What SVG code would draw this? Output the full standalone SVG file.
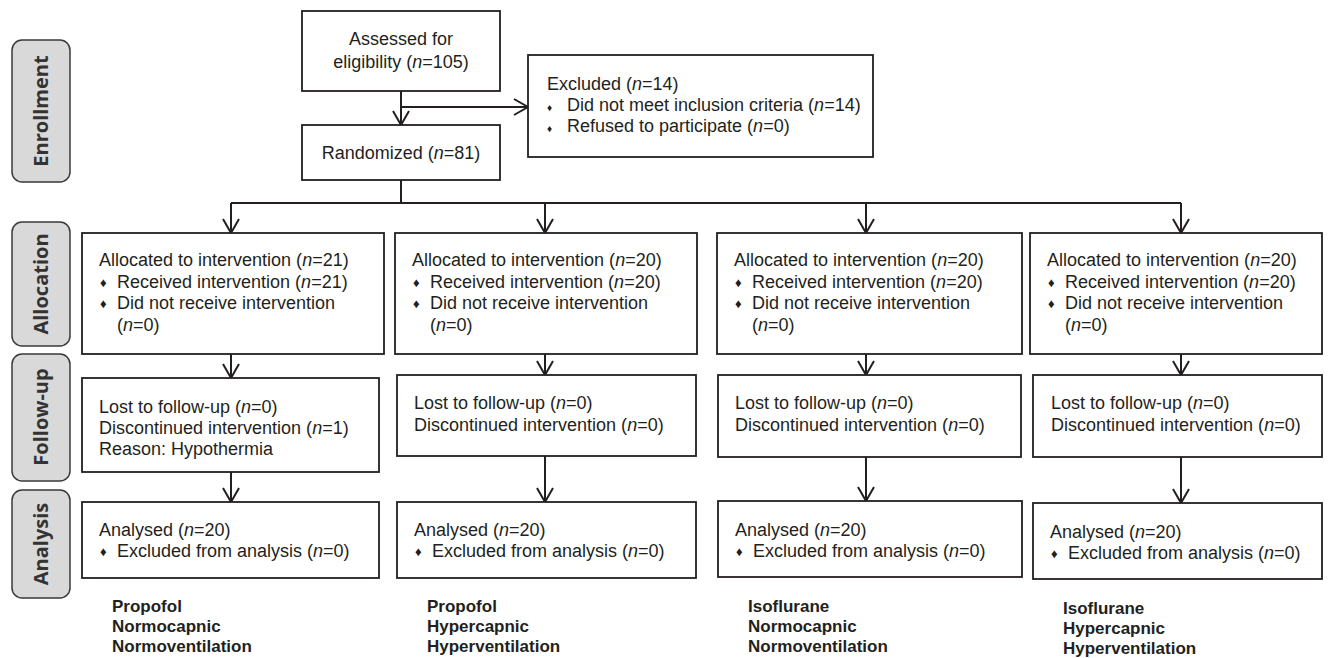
<svg xmlns="http://www.w3.org/2000/svg" width="1328" height="658" viewBox="0 0 1328 658">
<style>
.box{fill:#fff;stroke:#231f20;stroke-width:1.8}
.lbl{fill:#d9d9d9;stroke:#3a3a3a;stroke-width:1.5}
.t{font-family:"Liberation Sans",Arial,sans-serif;font-size:18px;fill:#231f20}
.m{text-anchor:middle}
.b{font-family:"Liberation Sans",Arial,sans-serif;font-size:17px;font-weight:bold;fill:#231f20}
.side{font-family:"Open Sans","DejaVu Sans",sans-serif;font-weight:bold;font-size:20px;fill:#333;text-anchor:middle}
.c{stroke:#231f20;stroke-width:2;fill:none}
.i{font-style:italic}
.d{font-size:13px}
.ds{font-size:10px}
</style>
<defs>
<marker id="ah" viewBox="-16 -10 18 20" refX="0" refY="0" markerWidth="18" markerHeight="20" markerUnits="userSpaceOnUse" orient="auto">
<path d="M-14,-8 L0,0 L-14,8" fill="none" stroke="#231f20" stroke-width="2"/>
</marker>
</defs>

<g id="side-labels">
<g id="lbl-enrollment"><rect class="lbl" x="12" y="40" width="58" height="142" rx="10"/><text class="side" transform="translate(48,111) rotate(-90)">Enrollment</text></g>
<g id="lbl-allocation"><rect class="lbl" x="12" y="222" width="58" height="124" rx="10"/><text class="side" transform="translate(48,284) rotate(-90)">Allocation</text></g>
<g id="lbl-followup"><rect class="lbl" x="12" y="354" width="58" height="127" rx="10"/><text class="side" transform="translate(48,417) rotate(-90)">Follow-up</text></g>
<g id="lbl-analysis"><rect class="lbl" x="12" y="490" width="58" height="108" rx="10"/><text class="side" transform="translate(48,544) rotate(-90)">Analysis</text></g>
</g>

<g id="connectors">
<path class="c" d="M401,91 V125" marker-end="url(#ah)"/>
<path class="c" d="M401,107 H528" marker-end="url(#ah)"/>
<path class="c" d="M401,180 V203 M231,203 H1181"/>
<path class="c" d="M231,203 V233" marker-end="url(#ah)"/>
<path class="c" d="M545,203 V233" marker-end="url(#ah)"/>
<path class="c" d="M866,203 V233" marker-end="url(#ah)"/>
<path class="c" d="M1181,203 V233" marker-end="url(#ah)"/>
<path class="c" d="M231,354 V378" marker-end="url(#ah)"/>
<path class="c" d="M545,354 V375" marker-end="url(#ah)"/>
<path class="c" d="M866,354 V375" marker-end="url(#ah)"/>
<path class="c" d="M1181,354 V375" marker-end="url(#ah)"/>
<path class="c" d="M231,472 V502" marker-end="url(#ah)"/>
<path class="c" d="M545,456 V502" marker-end="url(#ah)"/>
<path class="c" d="M866,457 V501" marker-end="url(#ah)"/>
<path class="c" d="M1181,457 V503" marker-end="url(#ah)"/>
</g>

<g id="assessed">
<rect class="box" x="302" y="11" width="198" height="80"/>
<text class="t m" x="401" y="45">Assessed for</text>
<text class="t m" x="401" y="68">eligibility (<tspan class="i">n</tspan>=105)</text>
</g>

<g id="excluded">
<rect class="box" x="528" y="55" width="345" height="102"/>
<text class="t" x="547" y="90">Excluded (<tspan class="i">n</tspan>=14)</text>
<text class="t" x="547" y="111"><tspan class="ds">♦</tspan></text><text class="t" x="567" y="111">Did not meet inclusion criteria (<tspan class="i">n</tspan>=14)</text>
<text class="t" x="547" y="132"><tspan class="ds">♦</tspan></text><text class="t" x="567" y="132">Refused to participate (<tspan class="i">n</tspan>=0)</text>
</g>

<g id="randomized">
<rect class="box" x="302" y="125" width="198" height="55"/>
<text class="t m" x="401" y="159">Randomized (<tspan class="i">n</tspan>=81)</text>
</g>

<g id="alloc-1">
<rect class="box" x="82" y="233" width="302" height="121"/>
<text class="t" x="99" y="266">Allocated to intervention (<tspan class="i">n</tspan>=21)</text>
<text class="t d" x="100" y="287">♦</text><text class="t" x="117" y="288">Received intervention (<tspan class="i">n</tspan>=21)</text>
<text class="t d" x="100" y="308">♦</text><text class="t" x="117" y="309">Did not receive intervention</text>
<text class="t" x="117" y="331">(<tspan class="i">n</tspan>=0)</text>
</g>
<g id="alloc-2">
<rect class="box" x="395" y="233" width="302" height="121"/>
<text class="t" x="412" y="266">Allocated to intervention (<tspan class="i">n</tspan>=20)</text>
<text class="t d" x="413" y="287">♦</text><text class="t" x="430" y="288">Received intervention (<tspan class="i">n</tspan>=20)</text>
<text class="t d" x="413" y="308">♦</text><text class="t" x="430" y="309">Did not receive intervention</text>
<text class="t" x="430" y="331">(<tspan class="i">n</tspan>=0)</text>
</g>
<g id="alloc-3">
<rect class="box" x="717" y="233" width="305" height="121"/>
<text class="t" x="734" y="266">Allocated to intervention (<tspan class="i">n</tspan>=20)</text>
<text class="t d" x="735" y="287">♦</text><text class="t" x="752" y="288">Received intervention (<tspan class="i">n</tspan>=20)</text>
<text class="t d" x="735" y="308">♦</text><text class="t" x="752" y="309">Did not receive intervention</text>
<text class="t" x="752" y="331">(<tspan class="i">n</tspan>=0)</text>
</g>
<g id="alloc-4">
<rect class="box" x="1030" y="233" width="292" height="121"/>
<text class="t" x="1047" y="266">Allocated to intervention (<tspan class="i">n</tspan>=20)</text>
<text class="t d" x="1048" y="287">♦</text><text class="t" x="1065" y="288">Received intervention (<tspan class="i">n</tspan>=20)</text>
<text class="t d" x="1048" y="308">♦</text><text class="t" x="1065" y="309">Did not receive intervention</text>
<text class="t" x="1065" y="331">(<tspan class="i">n</tspan>=0)</text>
</g>

<g id="follow-1">
<rect class="box" x="82" y="378" width="297" height="94"/>
<text class="t" x="99" y="413">Lost to follow-up (<tspan class="i">n</tspan>=0)</text>
<text class="t" x="99" y="434">Discontinued intervention (<tspan class="i">n</tspan>=1)</text>
<text class="t" x="99" y="455">Reason: Hypothermia</text>
</g>
<g id="follow-2">
<rect class="box" x="397" y="375" width="299" height="81"/>
<text class="t" x="414" y="409">Lost to follow-up (<tspan class="i">n</tspan>=0)</text>
<text class="t" x="414" y="431">Discontinued intervention (<tspan class="i">n</tspan>=0)</text>
</g>
<g id="follow-3">
<rect class="box" x="718" y="375" width="303" height="82"/>
<text class="t" x="735" y="409">Lost to follow-up (<tspan class="i">n</tspan>=0)</text>
<text class="t" x="735" y="431">Discontinued intervention (<tspan class="i">n</tspan>=0)</text>
</g>
<g id="follow-4">
<rect class="box" x="1033" y="375" width="289" height="82"/>
<text class="t" x="1051" y="409">Lost to follow-up (<tspan class="i">n</tspan>=0)</text>
<text class="t" x="1051" y="431">Discontinued intervention (<tspan class="i">n</tspan>=0)</text>
</g>

<g id="analysis-1">
<rect class="box" x="82" y="502" width="297" height="76"/>
<text class="t" x="99" y="536">Analysed (<tspan class="i">n</tspan>=20)</text>
<text class="t d" x="100" y="556">♦</text><text class="t" x="117" y="557">Excluded from analysis (<tspan class="i">n</tspan>=0)</text>
</g>
<g id="analysis-2">
<rect class="box" x="397" y="502" width="299" height="76"/>
<text class="t" x="414" y="536">Analysed (<tspan class="i">n</tspan>=20)</text>
<text class="t d" x="415" y="556">♦</text><text class="t" x="432" y="557">Excluded from analysis (<tspan class="i">n</tspan>=0)</text>
</g>
<g id="analysis-3">
<rect class="box" x="718" y="501" width="304" height="76"/>
<text class="t" x="735" y="536">Analysed (<tspan class="i">n</tspan>=20)</text>
<text class="t d" x="736" y="556">♦</text><text class="t" x="753" y="557">Excluded from analysis (<tspan class="i">n</tspan>=0)</text>
</g>
<g id="analysis-4">
<rect class="box" x="1033" y="503" width="289" height="76"/>
<text class="t" x="1050" y="538">Analysed (<tspan class="i">n</tspan>=20)</text>
<text class="t d" x="1051" y="558">♦</text><text class="t" x="1068" y="559">Excluded from analysis (<tspan class="i">n</tspan>=0)</text>
</g>

<g id="group-labels">
<g id="group-1"><text class="b" x="112" y="612">Propofol</text><text class="b" x="112" y="632">Normocapnic</text><text class="b" x="112" y="652">Normoventilation</text></g>
<g id="group-2"><text class="b" x="427" y="612">Propofol</text><text class="b" x="427" y="632">Hypercapnic</text><text class="b" x="427" y="652">Hyperventilation</text></g>
<g id="group-3"><text class="b" x="748" y="612">Isoflurane</text><text class="b" x="748" y="632">Normocapnic</text><text class="b" x="748" y="652">Normoventilation</text></g>
<g id="group-4"><text class="b" x="1063" y="614">Isoflurane</text><text class="b" x="1063" y="634">Hypercapnic</text><text class="b" x="1063" y="654">Hyperventilation</text></g>
</g>
</svg>
